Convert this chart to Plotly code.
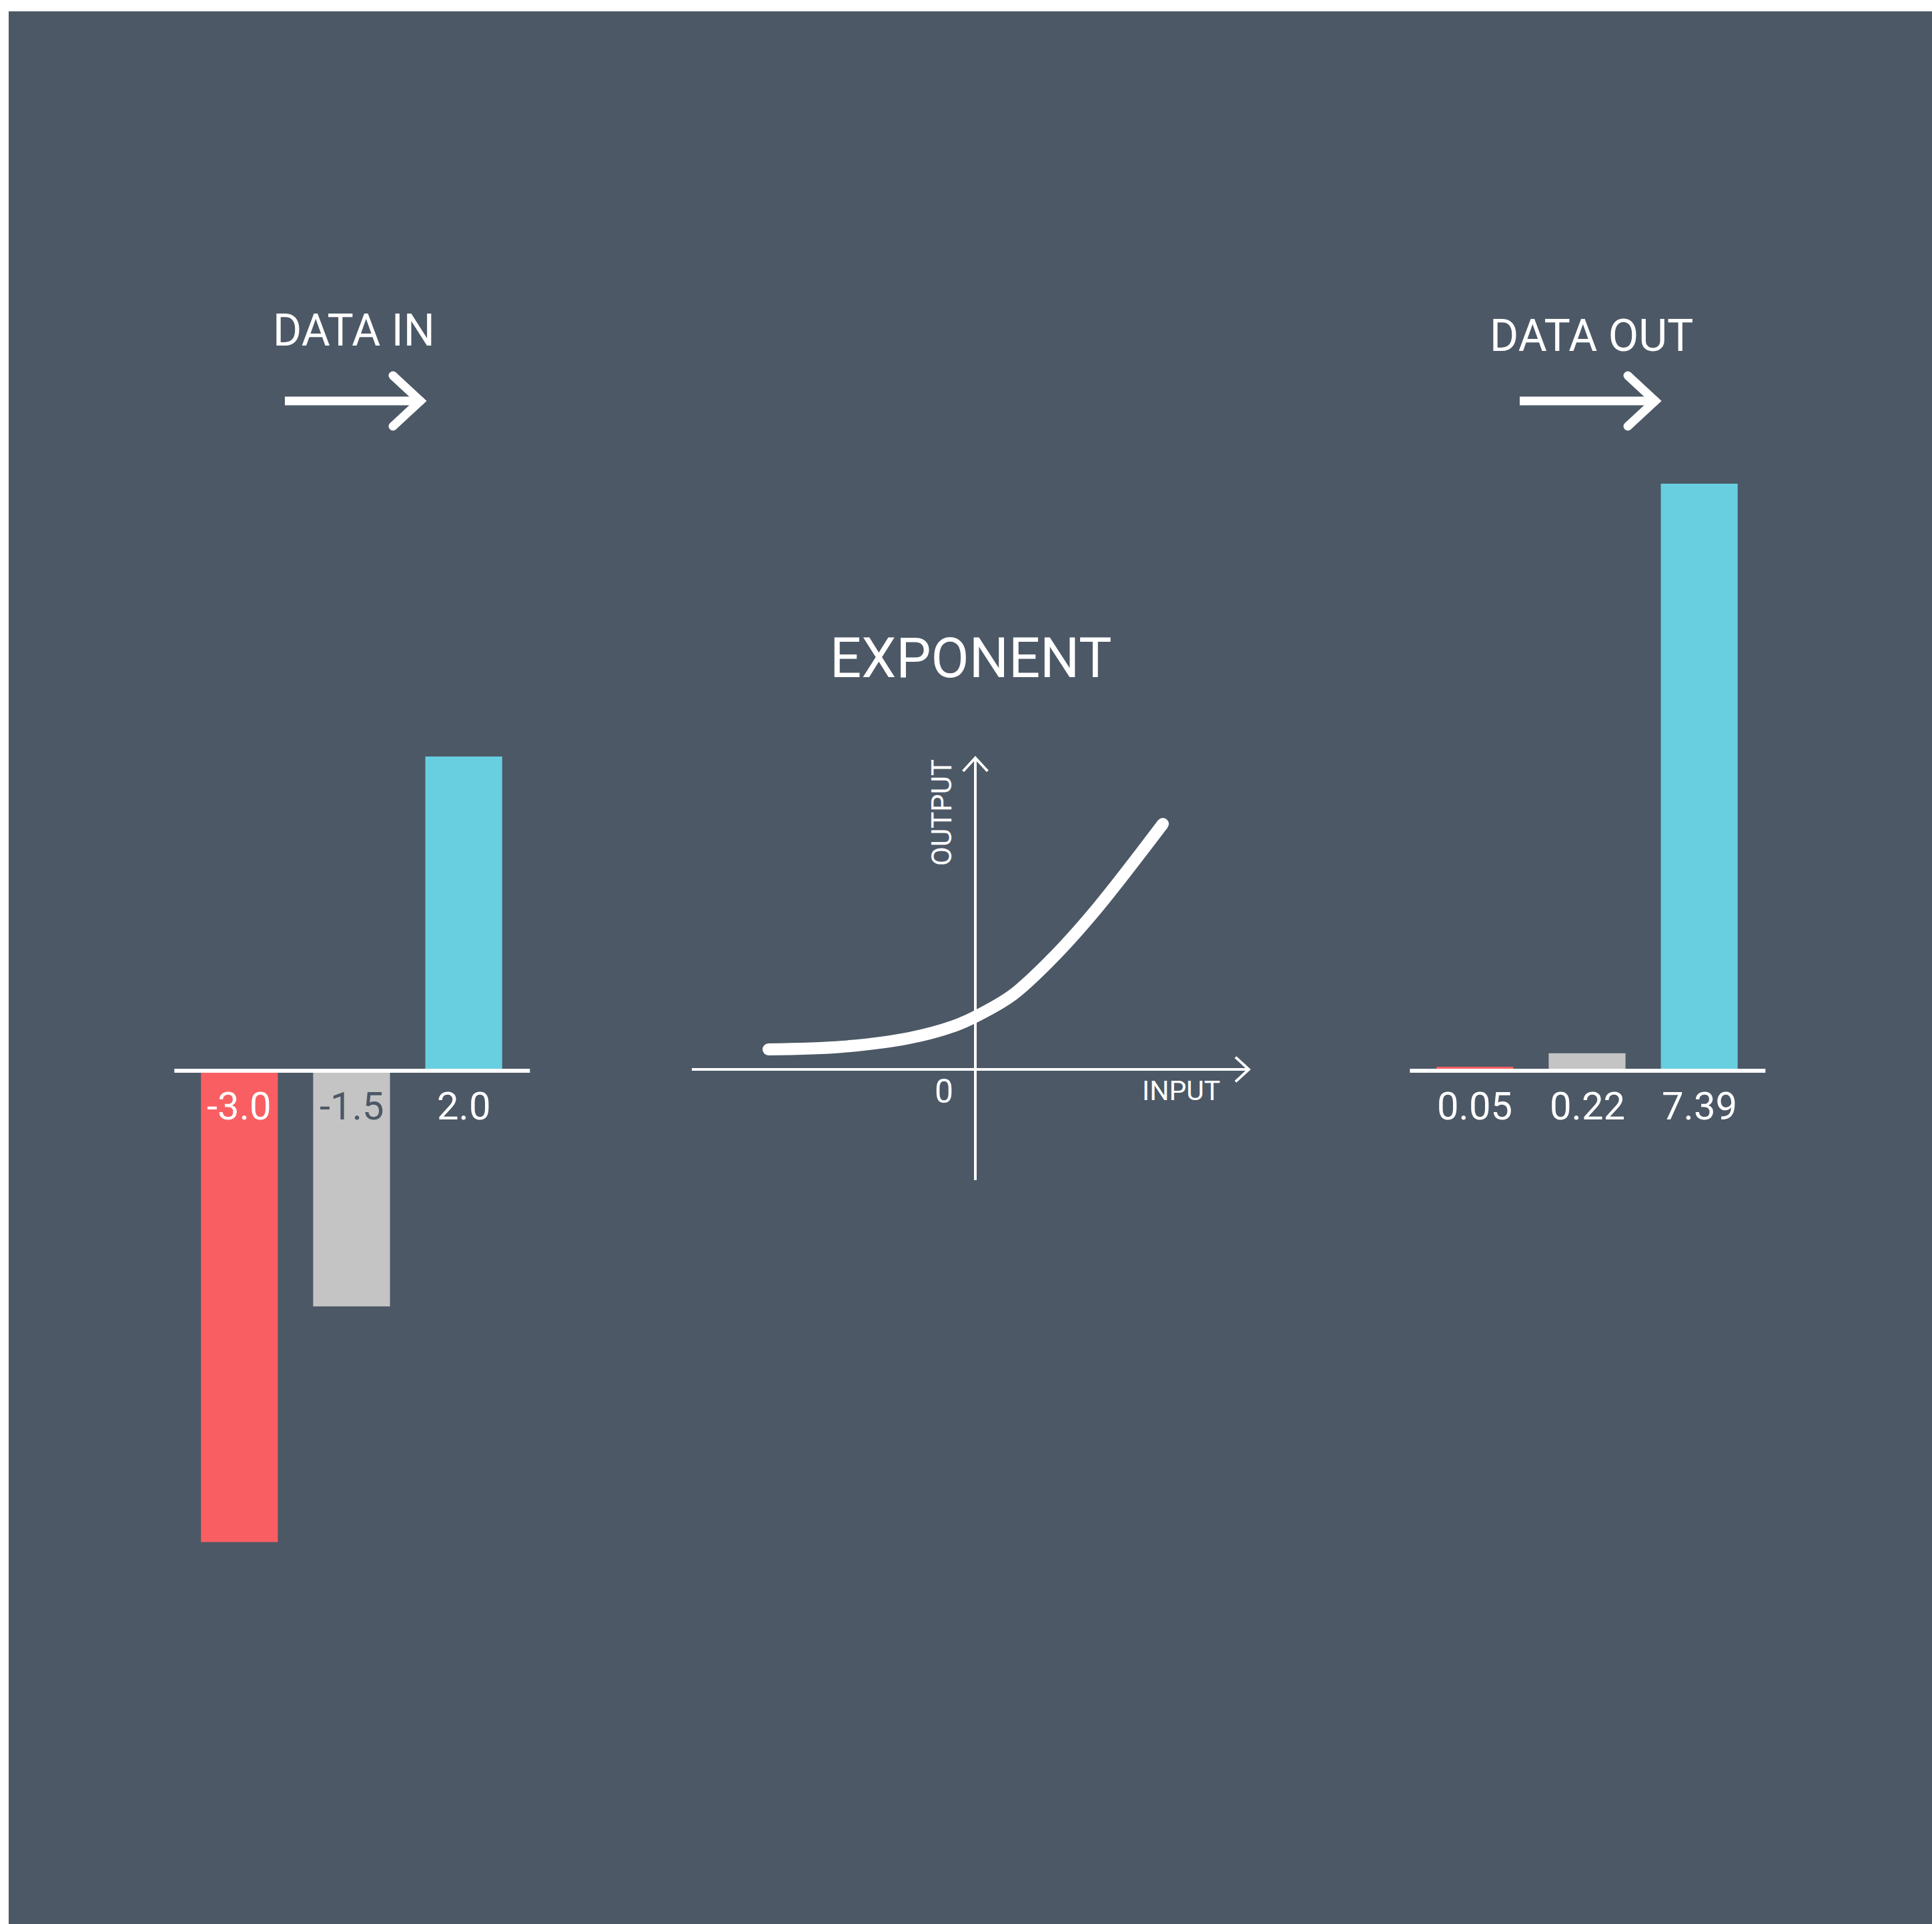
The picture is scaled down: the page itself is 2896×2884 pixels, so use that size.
import plotly.graph_objects as go

# ---- data -------------------------------------------------------------
input_labels = ["-3.0", "-1.5", "2.0"]
input_values = [-3.0, -1.5, 2.0]

output_labels = ["0.05", "0.22", "7.39"]
output_values = [0.05, 0.22, 7.39]

bar_colors = ["#F95F62", "#C4C4C4", "#68CFE0"]
input_label_colors = ["#FFFFFF", "#4C5866", "#FFFFFF"]

# sampled points of the exponent curve (input, output)
curve_x = [-3.875, -2.488, -1.238, -0.4, 0.0, 0.688, 1.4, 2.225, 3.513]
curve_y = [0.375, 0.425, 0.588, 0.813, 0.988, 1.388, 2.038, 2.95, 4.6]

# ---- layout helpers ---------------------------------------------------
W, H = 2896, 2884
BG = "#4C5866"
WHITE = "#FFFFFF"
FONT = "Roboto"


def px_x(p):
    return p / W


def px_y(p):
    return 1 - p / H


def dom_x(a, b):
    return [px_x(a), px_x(b)]


def dom_y(top, bottom):
    return [px_y(bottom), px_y(top)]


fig = go.Figure()

# input bars
fig.add_trace(go.Bar(
    x=[0, 1, 2], y=input_values, width=0.685,
    marker=dict(color=bar_colors, line=dict(width=0)),
    xaxis="x", yaxis="y", hoverinfo="skip", showlegend=False,
))

# output bars
fig.add_trace(go.Bar(
    x=[0, 1, 2], y=output_values, width=0.685,
    marker=dict(color=bar_colors, line=dict(width=0)),
    xaxis="x3", yaxis="y3", hoverinfo="skip", showlegend=False,
))

# exponent curve
fig.add_trace(go.Scatter(
    x=curve_x, y=curve_y, mode="lines",
    line=dict(color=WHITE, width=18, shape="spline", smoothing=1.0),
    xaxis="x2", yaxis="y2", hoverinfo="skip", showlegend=False,
))
fig.add_trace(go.Scatter(
    x=[curve_x[0], curve_x[-1]], y=[curve_y[0], curve_y[-1]], mode="markers",
    marker=dict(color=WHITE, size=18, line=dict(width=0)),
    xaxis="x2", yaxis="y2", hoverinfo="skip", showlegend=False,
))

hidden = dict(visible=False, fixedrange=True)

# left panel: 235.5 px per unit, baseline at 1605 px
left_top, left_bot, left_base, left_ppu = 1100, 2350, 1605, 235.5
# right panel: baseline at 1605 px, 7.39 reaches 725 px
right_top, right_bot, right_base = 700, 1700, 1605
right_ppu = (right_base - 725) / max(output_values)
# middle panel: origin at (1462, 1603), 80 px per unit
mid_l, mid_r, mid_top, mid_bot = 1000, 1900, 1100, 1800
mid_ox, mid_oy, mid_ppu = 1462, 1603, 80.0

fig.update_layout(
    width=W, height=H,
    margin=dict(l=0, r=0, t=0, b=0),
    paper_bgcolor=WHITE, plot_bgcolor="rgba(0,0,0,0)",
    showlegend=False,
    xaxis=dict(domain=dom_x(258, 796), range=[-0.6, 2.6], anchor="y", **hidden),
    yaxis=dict(domain=dom_y(left_top, left_bot),
               range=[(left_base - left_bot) / left_ppu, (left_base - left_top) / left_ppu],
               anchor="x", **hidden),
    xaxis2=dict(domain=dom_x(mid_l, mid_r),
                range=[(mid_l - mid_ox) / mid_ppu, (mid_r - mid_ox) / mid_ppu],
                anchor="y2", **hidden),
    yaxis2=dict(domain=dom_y(mid_top, mid_bot),
                range=[(mid_oy - mid_bot) / mid_ppu, (mid_oy - mid_top) / mid_ppu],
                anchor="x2", **hidden),
    xaxis3=dict(domain=dom_x(2110, 2648), range=[-0.6, 2.6], anchor="y3", **hidden),
    yaxis3=dict(domain=dom_y(right_top, right_bot),
                range=[(right_base - right_bot) / right_ppu, (right_base - right_top) / right_ppu],
                anchor="x3", **hidden),
)

shapes = []

# slate background panel
shapes.append(dict(type="rect", xref="paper", yref="paper",
                   x0=px_x(13), x1=1, y0=0, y1=px_y(17),
                   fillcolor=BG, line=dict(width=0), layer="below"))

# bar baselines
shapes.append(dict(type="line", xref="x", yref="y", x0=-0.58, x1=2.59, y0=0, y1=0,
                   line=dict(color=WHITE, width=6), layer="above"))
shapes.append(dict(type="line", xref="x3", yref="y3", x0=-0.58, x1=2.59, y0=0, y1=0,
                   line=dict(color=WHITE, width=6), layer="above"))

# middle axes with arrow heads
ax_w = 4
x_lo = (1037 - mid_ox) / mid_ppu
x_tip = (1872 - mid_ox) / mid_ppu
y_lo = (mid_oy - 1769) / mid_ppu
y_tip = (mid_oy - 1136) / mid_ppu
head = 0.23
shapes.append(dict(type="line", xref="x2", yref="y2", x0=x_lo, x1=x_tip, y0=0, y1=0,
                   line=dict(color=WHITE, width=ax_w), layer="below"))
shapes.append(dict(type="path", xref="x2", yref="y2",
                   path=f"M {x_tip - 0.25},{head} L {x_tip},0 L {x_tip - 0.25},{-head}",
                   line=dict(color=WHITE, width=ax_w), layer="below"))
shapes.append(dict(type="line", xref="x2", yref="y2", x0=0, x1=0, y0=y_lo, y1=y_tip,
                   line=dict(color=WHITE, width=ax_w), layer="below"))
shapes.append(dict(type="path", xref="x2", yref="y2",
                   path=f"M {-head},{y_tip - 0.25} L 0,{y_tip} L {head},{y_tip - 0.25}",
                   line=dict(color=WHITE, width=ax_w), layer="below"))


# "data in" / "data out" arrows
def flow_arrow(x_start, x_tip, y, arm_dx=41, arm_dy=38, w=13):
    out = []
    out.append(dict(type="line", xref="paper", yref="paper",
                    x0=px_x(x_start), x1=px_x(x_tip - 4), y0=px_y(y), y1=px_y(y),
                    line=dict(color=WHITE, width=w), layer="above"))
    out.append(dict(type="path", xref="paper", yref="paper",
                    path=(f"M {px_x(x_tip - arm_dx)},{px_y(y - arm_dy)} "
                          f"L {px_x(x_tip)},{px_y(y)} "
                          f"L {px_x(x_tip - arm_dx)},{px_y(y + arm_dy)}"),
                    line=dict(color=WHITE, width=w), layer="above"))
    r = w / 2
    for cx, cy in [(x_tip - arm_dx, y - arm_dy), (x_tip - arm_dx, y + arm_dy), (x_tip, y)]:
        out.append(dict(type="circle", xref="paper", yref="paper",
                        x0=px_x(cx - r), x1=px_x(cx + r), y0=px_y(cy + r), y1=px_y(cy - r),
                        fillcolor=WHITE, line=dict(width=0), layer="above"))
    return out


shapes += flow_arrow(427, 630, 601)
shapes += flow_arrow(2278, 2481, 601)

fig.update_layout(shapes=shapes)

annotations = []

# value labels under the bars
for i, (lab, col) in enumerate(zip(input_labels, input_label_colors)):
    annotations.append(dict(text=lab, x=i, y=0, xref="x", yref="y",
                            xanchor="center", yanchor="middle", yshift=-53,
                            showarrow=False, font=dict(family=FONT, size=58, color=col)))
for i, lab in enumerate(output_labels):
    annotations.append(dict(text=lab, x=i, y=0, xref="x3", yref="y3",
                            xanchor="center", yanchor="middle", yshift=-53,
                            showarrow=False, font=dict(family=FONT, size=58, color=WHITE)))

# headings
annotations.append(dict(text="DATA IN", x=px_x(530), y=px_y(495), xref="paper", yref="paper",
                        xanchor="center", yanchor="middle", showarrow=False,
                        font=dict(family=FONT, size=66, color=WHITE)))
annotations.append(dict(text="DATA OUT", x=px_x(2385), y=px_y(503), xref="paper", yref="paper",
                        xanchor="center", yanchor="middle", showarrow=False,
                        font=dict(family=FONT, size=66, color=WHITE)))
annotations.append(dict(text="EXPONENT", x=px_x(1455), y=px_y(987), xref="paper", yref="paper",
                        xanchor="center", yanchor="middle", showarrow=False,
                        font=dict(family=FONT, size=83, color=WHITE)))

# middle axis labels
annotations.append(dict(text="0", x=(1415 - mid_ox) / mid_ppu, y=(mid_oy - 1636) / mid_ppu,
                        xref="x2", yref="y2", xanchor="center", yanchor="middle",
                        showarrow=False, font=dict(family=FONT, size=50, color=WHITE)))
annotations.append(dict(text="INPUT", x=(1770 - mid_ox) / mid_ppu, y=(mid_oy - 1635) / mid_ppu,
                        xref="x2", yref="y2", xanchor="center", yanchor="middle",
                        showarrow=False, font=dict(family=FONT, size=41, color=WHITE)))
annotations.append(dict(text="OUTPUT", x=(1411 - mid_ox) / mid_ppu, y=(mid_oy - 1218) / mid_ppu,
                        xref="x2", yref="y2", xanchor="center", yanchor="middle", textangle=-90,
                        showarrow=False, font=dict(family=FONT, size=42, color=WHITE)))

fig.update_layout(annotations=annotations)

fig.write_html("out.html")
